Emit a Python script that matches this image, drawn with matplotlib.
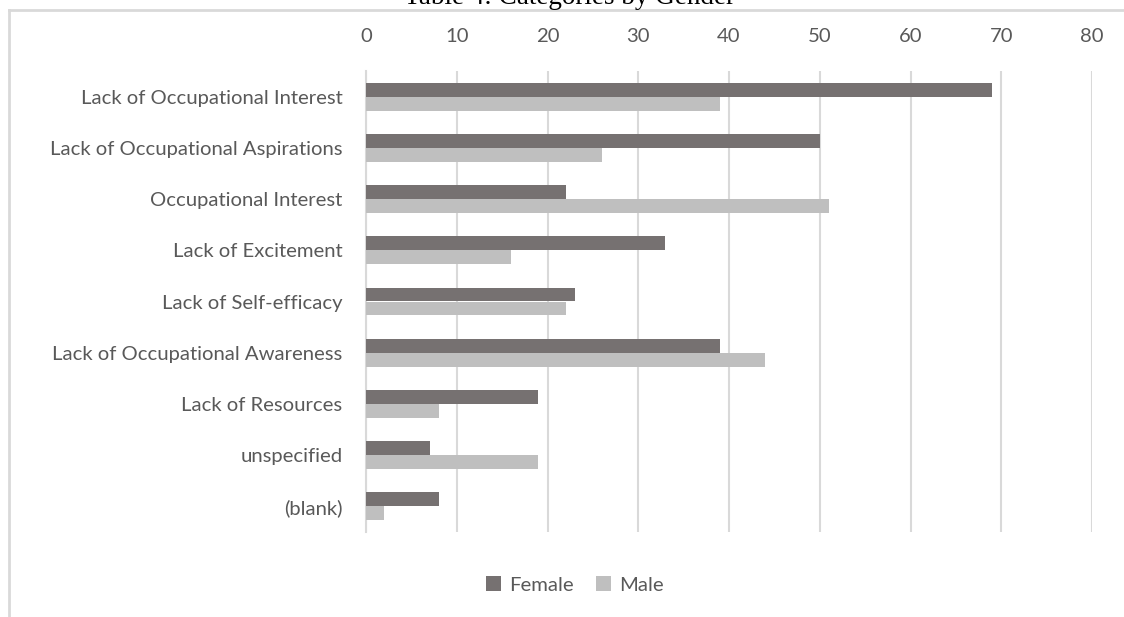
import matplotlib
matplotlib.use("Agg")
import matplotlib.pyplot as plt
from matplotlib.lines import Line2D
import numpy as np

categories = ["Lack of Occupational Interest", "Lack of Occupational Aspirations",
              "Occupational Interest", "Lack of Excitement", "Lack of Self-efficacy",
              "Lack of Occupational Awareness", "Lack of Resources", "unspecified", "(blank)"]
female = [69, 50, 22, 33, 23, 39, 19, 7, 8]
male = [39, 26, 51, 16, 22, 44, 8, 19, 2]
xticks = [0, 10, 20, 30, 40, 50, 60, 70, 80]
title = "Table 4: Categories by Gender"

W, H = 1124, 617
fig = plt.figure(figsize=(W / 100, H / 100), dpi=100)
fig.patch.set_facecolor("white")

FONT = "Lato"
FS = 14.6
TXT = "#595959"
GRID = "#D9D9D9"
C_F = "#767171"
C_M = "#BFBFBF"

left, right, top, bottom = 366, 1092, 71, 532
ax = fig.add_axes([left / W, 1 - bottom / H, (right - left) / W, (bottom - top) / H])

n = len(categories)
y = np.arange(n)
bh = 0.272
ax.barh(y - bh / 2, female, height=bh, color=C_F, label="Female", zorder=3)
ax.barh(y + bh / 2, male, height=bh, color=C_M, label="Male", zorder=3)

ax.set_ylim(n - 0.5, -0.5)
ax.set_xlim(0, 80)
ax.set_yticks(y)
ax.set_yticklabels(categories, fontfamily=FONT, fontsize=FS, color=TXT)
ax.set_xticks(xticks)
ax.set_xticklabels([str(v) for v in xticks], fontfamily=FONT, fontsize=FS, color=TXT)
ax.xaxis.tick_top()
ax.tick_params(axis="both", length=0)
ax.tick_params(axis="x", pad=19)
ax.tick_params(axis="y", pad=17)
ax.grid(axis="x", color=GRID, linewidth=1.5, zorder=0)
for s in ["top", "right", "bottom"]:
    ax.spines[s].set_visible(False)
ax.spines["left"].set_color(GRID)
ax.spines["left"].set_linewidth(1.5)
ax.set_facecolor("none")

# chart border (cut at right/bottom)
fig.add_artist(Line2D([8.5 / W, 1.0], [1 - 9.5 / H, 1 - 9.5 / H], color=GRID, linewidth=2, transform=fig.transFigure))
fig.add_artist(Line2D([8.5 / W, 8.5 / W], [1 - 9.5 / H, 0.0], color=GRID, linewidth=2, transform=fig.transFigure))

fig.text(569 / W, 1 - 4 / H, title, ha="center", va="baseline", fontfamily="Liberation Serif",
         fontsize=19.5, color="#000000")

leg = fig.legend(loc="center", bbox_to_anchor=(575 / W, 1 - 585 / H), ncol=2, frameon=False,
                 prop={"family": FONT, "size": FS}, handlelength=0.75, handleheight=0.75,
                 handletextpad=0.4, columnspacing=1.1)
for t in leg.get_texts():
    t.set_color(TXT)

fig.savefig("out.png", dpi=100)
